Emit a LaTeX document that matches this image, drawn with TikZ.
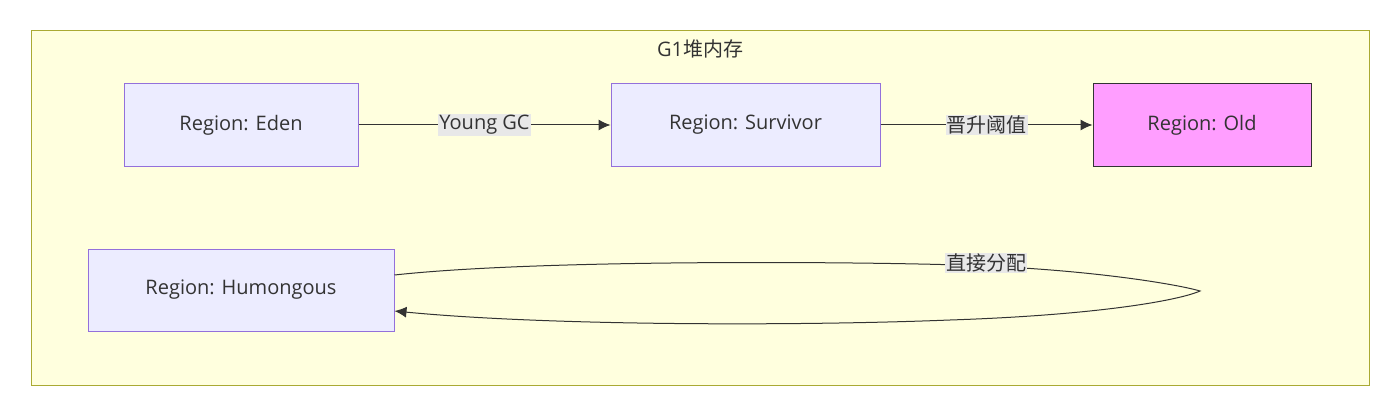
\documentclass[tikz,border=0pt]{standalone}
\usepackage{fontspec}
\setmainfont{Open Sans}
\newfontfamily\cjk{Noto Sans CJK SC}
\usetikzlibrary{arrows.meta}
\definecolor{boxfill}{HTML}{ECECFF}
\definecolor{boxline}{HTML}{9370DB}
\definecolor{clfill}{HTML}{FFFFDE}
\definecolor{clline}{HTML}{AAAA33}
\definecolor{oldfill}{HTML}{FF9EFF}
\definecolor{lblfill}{HTML}{E8E8E8}
\begin{document}
\begin{tikzpicture}[x=1pt,y=-1pt,
  box/.style={draw=boxline,fill=boxfill,line width=1pt,font=\fontsize{20}{24}\selectfont,text=black!80},
  lbl/.style={fill=lblfill,inner sep=1pt,font=\fontsize{20}{24}\selectfont,text=black!80},
  edge/.style={draw=black!80,line width=1pt,-{Latex[length=12pt,width=11pt]}}]
\useasboundingbox (0,0) rectangle (1400,417);
\node[draw=clline,fill=clfill,line width=1pt,minimum width=1338pt,minimum height=354pt,inner sep=0pt] (g1) at (700,208) {};
\node[font=\fontsize{20}{24}\selectfont,text=black!80] (title) at (700,49) {G1{\cjk 堆内存}};
\node[box,minimum width=234pt,minimum height=82pt] (eden) at (241,125) {Region: Eden};
\node[box,minimum width=269pt,minimum height=82pt] (surv) at (745.5,125) {Region: Survivor};
\node[box,draw=black!80,fill=oldfill,minimum width=218pt,minimum height=82pt] (old) at (1202,125) {Region: Old};
\node[box,minimum width=306pt,minimum height=82pt] (hum) at (241,290) {Region: Humongous};
\draw[edge] (eden) -- node[lbl] {Young GC} (surv);
\draw[edge] (surv) -- node[lbl,font=\cjk\fontsize{20}{24}\selectfont] {晋升阈值} (old);
\coordinate (tip) at (1200,291);
\draw[edge] (hum.east |- 0,275) .. controls (550,258) and (900,262) .. (986,266) .. controls (1100,271) and (1180,285) .. (tip) .. controls (1180,300) and (1100,315) .. (950,320) .. controls (800,326) and (550,326) .. (hum.east |- 0,311);
\node[lbl,font=\cjk\fontsize{20}{24}\selectfont] (l3) at (986,263) {直接分配};
\end{tikzpicture}
\end{document}
